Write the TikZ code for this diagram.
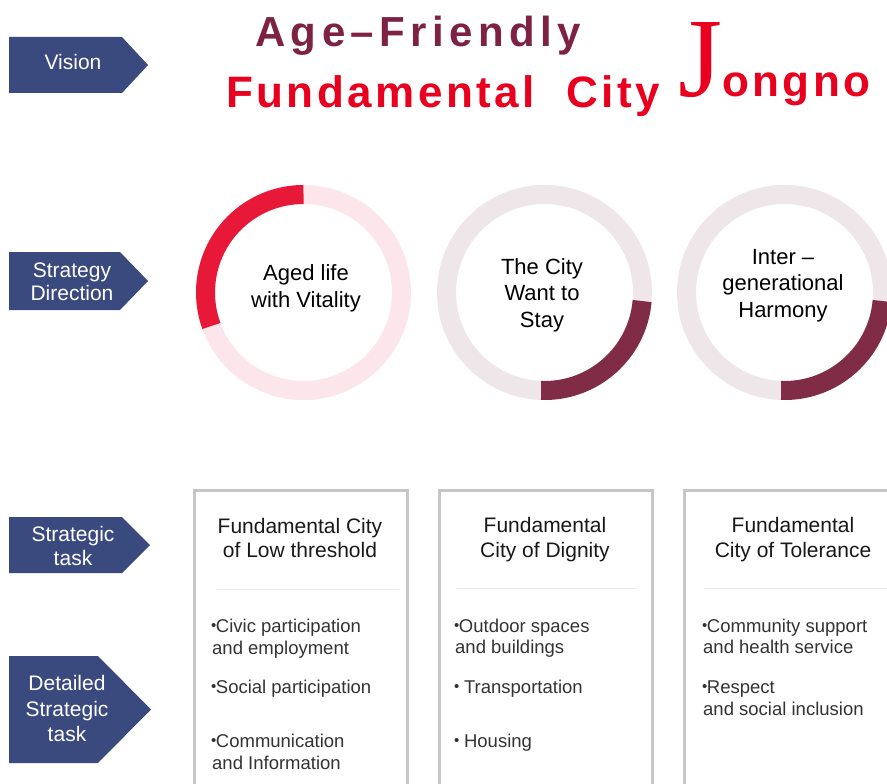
\documentclass[tikz,border=0pt]{standalone}
\usepackage{fontspec}
\setmainfont{Liberation Sans}
\newfontfamily\agefont{Liberation Sans}[LetterSpace=13]
\newfontfamily\fundfont{Liberation Sans}[LetterSpace=8]
\newfontfamily\jfont{Liberation Serif}
\newcommand\bul{\raisebox{1.2pt}{\fontsize{15}{15}\selectfont •}\kern-0.5pt}
\definecolor{navy}{RGB}{58,73,126}
\definecolor{maroontitle}{RGB}{125,34,66}
\definecolor{redtitle}{RGB}{232,0,30}
\definecolor{ringred}{RGB}{232,24,56}
\definecolor{ringpink}{RGB}{252,230,236}
\definecolor{ringmaroon}{RGB}{128,44,70}
\definecolor{ringgrey}{RGB}{238,230,233}
\definecolor{boxgrey}{RGB}{198,198,198}
\definecolor{sepgrey}{RGB}{234,234,234}
\definecolor{itemgrey}{RGB}{51,51,51}
\tikzset{
  chev/.style={fill=navy, draw=none},
  lbl/.style={text=white, font=\fontsize{21}{25}\selectfont, anchor=base, inner sep=0pt},
  ring/.style={circle, draw=#1, line width=19pt, minimum size=196pt, inner sep=0pt},
  ctext/.style={text=black, font=\fontsize{22}{26}\selectfont, anchor=base, inner sep=0pt},
  btitle/.style={text=black!90, font=\fontsize{21}{24}\selectfont, anchor=base, inner sep=0pt},
  item/.style={text=itemgrey, font=\fontsize{18.5}{22}\selectfont, anchor=base west, inner sep=0pt},
  taskbox/.style={draw=boxgrey, line width=3pt},
  sep/.style={draw=sepgrey, line width=1pt}
}
\begin{document}
\begin{tikzpicture}[x=1pt,y=-1pt]
\clip (0,0) rectangle (887,784);
\fill[white] (0,0) rectangle (887,784);

% left chevrons
\fill[chev] (9,37) -- (122,37) -- (148,65) -- (122,93) -- (9,93) -- cycle;
\fill[chev] (9,252) -- (120,252) -- (148,281) -- (120,310) -- (9,310) -- cycle;
\fill[chev] (9,517) -- (122,517) -- (150,545) -- (122,573) -- (9,573) -- cycle;
\fill[chev] (9,656) -- (98,656) -- (151,709.5) -- (98,763) -- (9,763) -- cycle;
\node[lbl] (vis) at (73,70) {Vision};
\node[lbl] (sd1) at (72,277) {Strategy};
\node[lbl] (sd2) at (72,300) {Direction};
\node[lbl] (st1) at (73,541) {Strategic};
\node[lbl] (st2) at (73,565) {task};
\node[lbl] (dt1) at (67,690) {Detailed};
\node[lbl] (dt2) at (67,716) {Strategic};
\node[lbl] (dt3) at (67,741) {task};

% title
\node[anchor=base west, inner sep=0pt, text=maroontitle, font=\agefont\bfseries\fontsize{42}{42}\selectfont] (t1) at (255,47) {Age–Friendly};
\node[anchor=base west, inner sep=0pt, text=redtitle, font=\fundfont\bfseries\fontsize{44}{44}\selectfont] (t2) at (226,107) {Fundamental};
\node[anchor=base west, inner sep=0pt, text=redtitle, font=\fundfont\bfseries\fontsize{44}{44}\selectfont] (t3) at (566,107) {City};
\node[anchor=base west, inner sep=0pt, text=redtitle, font=\jfont\fontsize{113}{113}\selectfont] (tj) at (678,96) {J};
\node[anchor=base west, inner sep=0pt, text=redtitle, font=\fundfont\bfseries\fontsize{44}{44}\selectfont] (tong) at (722,96) {ongno};

% rings
\node[ring=ringpink] (c1) at (303.5,292.5) {};
\draw[ringred, line width=19pt] (c1.center) ++(-90:98) arc[start angle=-90, end angle=-200, radius=98];
\node[ring=ringgrey] (c2) at (544.5,292.5) {};
\draw[ringmaroon, line width=19pt] (c2.center) ++(92:98) arc[start angle=92, end angle=5, radius=98];
\node[ring=ringgrey] (c3) at (784.5,292.5) {};
\draw[ringmaroon, line width=19pt] (c3.center) ++(92:98) arc[start angle=92, end angle=5, radius=98];

\node[ctext] (c1a) at (306,280) {Aged life};
\node[ctext] (c1b) at (306,307) {with Vitality};
\node[ctext] (c2a) at (542,274) {The City};
\node[ctext] (c2b) at (542,300.5) {Want to};
\node[ctext] (c2c) at (542,327) {Stay};
\node[ctext] (c3a) at (783,264) {Inter –};
\node[ctext] (c3b) at (783,290.5) {generational};
\node[ctext] (c3c) at (783,317) {Harmony};

% task boxes
\draw[taskbox] (194.5,490.5) rectangle (407.5,800);
\draw[taskbox] (439.5,490.5) rectangle (652.5,800);
\draw[taskbox] (684.5,490.5) rectangle (897.5,800);
\draw[sep] (217,589) -- (399,589);
\draw[sep] (457,588) -- (636,588);
\draw[sep] (705,588) -- (887,588);

\node[btitle] (b1a) at (300,533) {Fundamental City};
\node[btitle] (b1b) at (300,557) {of Low threshold};
\node[btitle] (b2a) at (545,532) {Fundamental};
\node[btitle] (b2b) at (545,557) {City of Dignity};
\node[btitle] (b3a) at (793,532) {Fundamental};
\node[btitle] (b3b) at (793,557) {City of Tolerance};

\node[item] (i11) at (211,632) {\bul Civic participation};
\node[item] (i12) at (212,654) {and employment};
\node[item] (i13) at (211,693) {\bul Social participation};
\node[item] (i14) at (211,747) {\bul Communication};
\node[item] (i15) at (212,769) {and Information};

\node[item] (i21) at (454,632) {\bul Outdoor spaces};
\node[item] (i22) at (455,653) {and buildings};
\node[item] (i23) at (454,693) {\bul\ Transportation};
\node[item] (i24) at (454,747) {\bul\ Housing};

\node[item] (i31) at (702,632) {\bul Community support};
\node[item] (i32) at (703,653) {and health service};
\node[item] (i33) at (702,693) {\bul Respect};
\node[item] (i34) at (703,715) {and social inclusion};
\end{tikzpicture}
\end{document}
